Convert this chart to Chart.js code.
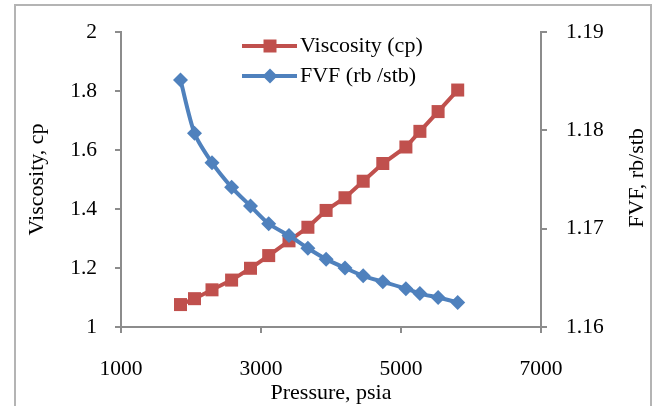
<!DOCTYPE html>
<html>
<head>
<meta charset="utf-8">
<script src="https://cdn.jsdelivr.net/npm/chart.js@4/dist/chart.umd.min.js"></script>
<style>
  html, body { margin: 0; padding: 0; background: #fff; }
  #wrap { width: 655px; height: 406px; position: relative; }
</style>
</head>
<body>
<div id="wrap"><canvas id="chart"></canvas></div>
<script>
// values
const pressure = [1850, 2050, 2300, 2580, 2850, 3110, 3400, 3670, 3930, 4200, 4460, 4740, 5070, 5270, 5530, 5810];
const viscosity = [1.076, 1.096, 1.126, 1.159, 1.199, 1.242, 1.292, 1.338, 1.395, 1.438, 1.494, 1.554, 1.610, 1.663, 1.730, 1.803];
const fvf = [1.1851, 1.1797, 1.1767, 1.1742, 1.1723, 1.1705, 1.1693, 1.1680, 1.1669, 1.1660, 1.1652, 1.1646, 1.1639, 1.1634, 1.1630, 1.1625];
const seriesNames = ["Viscosity (cp)", "FVF (rb /stb)"];
const xTitle = "Pressure, psia";
const yTitle = "Viscosity, cp";
const y1Title = "FVF, rb/stb";

const RED = "#C0504D";
const BLUE = "#4F81BD";
const AXIS = "#8c8c8c";
const FONT = "'Liberation Serif', 'Times New Roman', serif";
const TICK_SIZE = 21.5;
const TEXT_SIZE = 22;

const fmt = v => String(+v.toFixed(3));

// frame, legend and right-hand title
const extras = {
  id: "extras",
  beforeDraw(chart) {
    const ctx = chart.ctx;
    ctx.save();
    ctx.strokeStyle = "#b4b4b4";
    ctx.lineWidth = 2;
    ctx.strokeRect(15, 5, 636, 420);
    ctx.restore();
  },
  afterDraw(chart) {
    const ctx = chart.ctx;
    ctx.save();
    // legend
    const rows = [46, 76];
    chart.data.datasets.forEach(ds => {
      const y = rows[ds.legendRow];
      ctx.strokeStyle = ds.borderColor;
      ctx.fillStyle = ds.backgroundColor;
      ctx.lineWidth = ds.borderWidth;
      ctx.beginPath();
      ctx.moveTo(242, y);
      ctx.lineTo(297, y);
      ctx.stroke();
      ctx.beginPath();
      if (ds.pointStyle === "rect") {
        ctx.rect(270 - 6.5, y - 6.5, 13, 13);
      } else {
        ctx.moveTo(270, y - 7.5); ctx.lineTo(277.5, y);
        ctx.lineTo(270, y + 7.5); ctx.lineTo(262.5, y);
        ctx.closePath();
      }
      ctx.fill();
      ctx.fillStyle = "#000";
      ctx.font = TEXT_SIZE + "px " + FONT;
      ctx.textBaseline = "middle";
      ctx.textAlign = "left";
      ctx.fillText(ds.label, 300, y);
    });
    // right axis title, reads bottom to top
    ctx.translate(637, 178);
    ctx.rotate(-Math.PI / 2);
    ctx.textAlign = "center";
    ctx.textBaseline = "middle";
    ctx.fillStyle = "#000";
    ctx.font = TEXT_SIZE + "px " + FONT;
    ctx.fillText(y1Title, 0, 0);
    ctx.restore();
  }
};

new Chart(document.getElementById("chart"), {
  type: "line",
  data: {
    datasets: [
      {
        label: seriesNames[0],
        legendRow: 0,
        data: pressure.map((p, i) => ({ x: p, y: viscosity[i] })),
        yAxisID: "y",
        borderColor: RED,
        backgroundColor: RED,
        borderWidth: 4,
        pointStyle: "rect",
        pointRadius: 9.2,
        pointBorderWidth: 0,
        tension: 0,
        order: 1
      },
      {
        label: seriesNames[1],
        legendRow: 1,
        data: pressure.map((p, i) => ({ x: p, y: fvf[i] })),
        yAxisID: "y1",
        borderColor: BLUE,
        backgroundColor: BLUE,
        borderWidth: 4,
        pointStyle: "rectRot",
        pointRadius: 7.5,
        pointBorderWidth: 0,
        tension: 0.25,
        order: 0
      }
    ]
  },
  options: {
    responsive: true,
    maintainAspectRatio: false,
    animation: false,
    layout: { padding: { top: 25, left: 0, right: 0, bottom: 0 } },
    plugins: { legend: { display: false }, tooltip: { enabled: false } },
    scales: {
      x: {
        type: "linear",
        min: 1000, max: 7000,
        afterFit: s => { s.height = 79; },
        grid: { drawOnChartArea: false, drawTicks: true, tickLength: 6, color: AXIS, lineWidth: 2 },
        border: { display: true, color: AXIS, width: 2 },
        ticks: { stepSize: 2000, autoSkip: false, maxRotation: 0, padding: 23, color: "#000",
                 font: { family: FONT, size: TICK_SIZE }, callback: v => fmt(v) },
        title: { display: true, text: xTitle, color: "#000", font: { family: FONT, size: TEXT_SIZE },
                 padding: { top: 0, bottom: 0 } }
      },
      y: {
        position: "left",
        min: 1, max: 2,
        afterFit: s => { s.width = 121; },
        grid: { drawOnChartArea: false, drawTicks: true, tickLength: 6, color: AXIS, lineWidth: 2 },
        border: { display: true, color: AXIS, width: 2 },
        ticks: { stepSize: 0.2, padding: 18, color: "#000", font: { family: FONT, size: TICK_SIZE },
                 callback: v => fmt(v) },
        title: { display: true, text: yTitle, color: "#000", font: { family: FONT, size: TEXT_SIZE },
                 padding: { top: 24, bottom: 24 } }
      },
      y1: {
        position: "right",
        min: 1.16, max: 1.19,
        afterFit: s => { s.width = 114; },
        grid: { drawOnChartArea: false, drawTicks: true, tickLength: 6, color: AXIS, lineWidth: 2 },
        border: { display: true, color: AXIS, width: 2 },
        ticks: { stepSize: 0.01, padding: 19, color: "#000", font: { family: FONT, size: TICK_SIZE },
                 callback: v => fmt(v) }
      }
    }
  },
  plugins: [extras]
});
</script>
</body>
</html>
